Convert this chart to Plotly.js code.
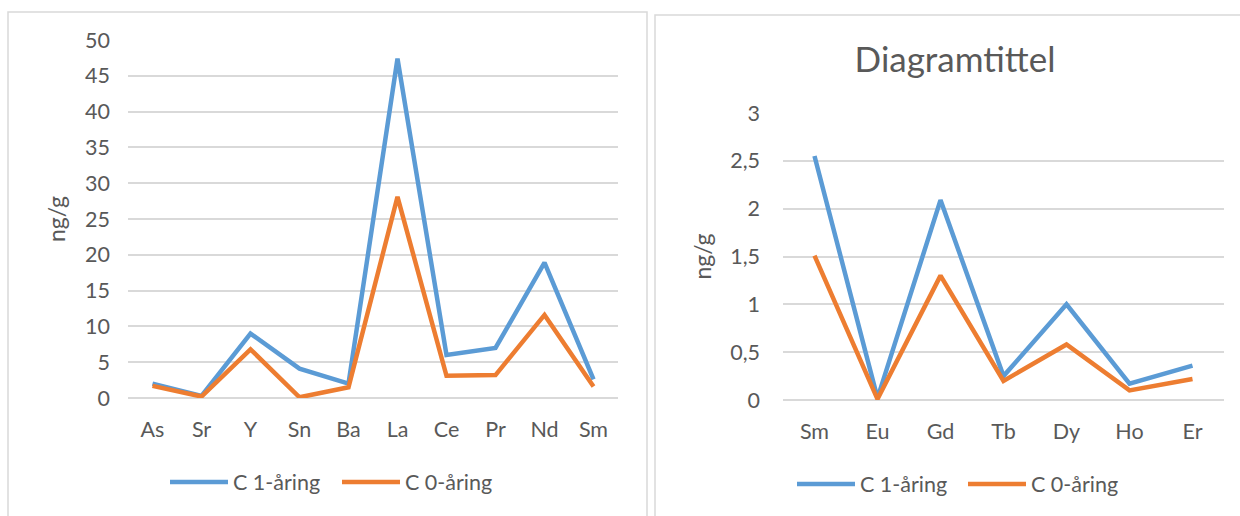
<!DOCTYPE html>
<html>
<head>
<meta charset="utf-8">
<script src="https://cdn.plot.ly/plotly-3.0.1.min.js"></script>
<style>html,body{margin:0;padding:0;background:#fff;}#chart{width:1240px;height:516px;}</style>
</head>
<body>
<div id="chart"></div>
<script>
// Left chart
const catsLeft = ["As", "Sr", "Y", "Sn", "Ba", "La", "Ce", "Pr", "Nd", "Sm"];
const c1Left = [2.0, 0.3, 9.0, 4.1, 2.0, 47.4, 6.0, 7.0, 18.9, 2.6];
const c0Left = [1.7, 0.2, 6.8, 0.1, 1.5, 28.1, 3.1, 3.2, 11.6, 1.6];
// Right chart
const catsRight = ["Sm", "Eu", "Gd", "Tb", "Dy", "Ho", "Er"];
const c1Right = [2.55, 0.02, 2.09, 0.25, 1.00, 0.17, 0.36];
const c0Right = [1.51, 0.01, 1.30, 0.20, 0.58, 0.10, 0.22];
const seriesNames = ["C 1-åring", "C 0-åring"];

const BLUE = "#5B9BD5", ORANGE = "#ED7D31", GRID = "#D9D9D9", TXT = "#595959";
const FONT = "Lato, 'Open Sans', sans-serif";
const W = 1240, H = 516;

function line(x, y, name, color, xa, ya, lg) {
  return {type: "scatter", mode: "lines", x: x, y: y, name: name,
    xaxis: xa, yaxis: ya, legend: lg,
    line: {color: color, width: 4.5}, hoverinfo: "x+y+name"};
}

const data = [
  line(catsLeft, c1Left, seriesNames[0], BLUE, "x", "y", "legend"),
  line(catsLeft, c0Left, seriesNames[1], ORANGE, "x", "y", "legend"),
  line(catsRight, c1Right, seriesNames[0], BLUE, "x2", "y2", "legend2"),
  line(catsRight, c0Right, seriesNames[1], ORANGE, "x2", "y2", "legend2")
];

const tf = {family: FONT, size: 21.5, color: TXT};
const xcommon = {type: "category", showgrid: false, showline: false, zeroline: false,
  ticks: "", tickfont: tf, ticklabelstandoff: 16, fixedrange: true};
const ycommon = {showgrid: true, gridcolor: GRID, gridwidth: 1.5, zeroline: true,
  zerolinecolor: GRID, zerolinewidth: 1.5, showline: false, ticks: "", tickfont: tf, fixedrange: true};
const lf = {family: FONT, size: 21.5, color: TXT};

const layout = {
  width: W, height: H,
  margin: {l: 0, r: 0, t: 0, b: 0},
  paper_bgcolor: "#fff", plot_bgcolor: "rgba(0,0,0,0)",
  separators: ", ",
  font: {family: FONT, color: TXT},
  title: {text: "Diagramtittel", font: {family: FONT, size: 35, color: TXT},
    x: 955 / W, y: 1 - 60 / H, xref: "paper", yref: "paper", xanchor: "center", yanchor: "middle"},
  xaxis: Object.assign({}, xcommon, {domain: [128 / W, 618 / W], anchor: "y", range: [-0.5, 9.5]}),
  yaxis: Object.assign({}, ycommon, {domain: [1 - 398 / H, 1 - 40 / H], anchor: "x", range: [0, 50], dtick: 5,
    ticklabelstandoff: 17,
    title: {text: "ng/g", font: {family: FONT, size: 23, color: TXT}, standoff: 12}}),
  xaxis2: Object.assign({}, xcommon, {domain: [783 / W, 1224 / W], anchor: "y2", range: [-0.5, 6.5]}),
  yaxis2: Object.assign({}, ycommon, {domain: [1 - 400 / H, 1 - 113 / H], anchor: "x2", range: [0, 3], dtick: 0.5,
    ticklabelstandoff: 22,
    title: {text: "ng/g", font: {family: FONT, size: 23, color: TXT}, standoff: 12}}),
  legend: {orientation: "h", x: 165 / W, y: 1 - 482 / H, xanchor: "left", yanchor: "middle",
    font: lf, bgcolor: "rgba(0,0,0,0)",
    entrywidth: 99, entrywidthmode: "pixels", itemwidth: 58},
  legend2: {orientation: "h", x: 792 / W, y: 1 - 484 / H, xanchor: "left", yanchor: "middle",
    font: lf, bgcolor: "rgba(0,0,0,0)",
    entrywidth: 98, entrywidthmode: "pixels", itemwidth: 58},
  shapes: [
    {type: "rect", xref: "paper", yref: "paper", x0: 8 / W, x1: 647 / W, y0: -0.05, y1: 1 - 12 / H,
      line: {color: GRID, width: 1.5}, fillcolor: "rgba(0,0,0,0)", layer: "below"},
    {type: "rect", xref: "paper", yref: "paper", x0: 655 / W, x1: 1.05, y0: -0.05, y1: 1 - 15 / H,
      line: {color: GRID, width: 1.5}, fillcolor: "rgba(0,0,0,0)", layer: "below"}
  ]
};

Plotly.newPlot("chart", data, layout, {displayModeBar: false, responsive: false});
</script>
</body>
</html>
